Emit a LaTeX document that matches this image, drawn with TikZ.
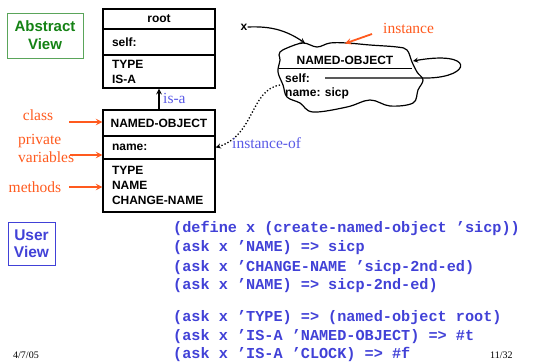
\documentclass[tikz,border=0pt]{standalone}
\usepackage{fontspec}
\setmainfont{Liberation Serif}
\setsansfont{Liberation Sans}
\setmonofont{Liberation Mono}
\usetikzlibrary{positioning,calc,arrows,arrows.meta}
\definecolor{annot}{RGB}{255,90,30}
\definecolor{codeblue}{RGB}{65,65,215}
\definecolor{linkblue}{RGB}{90,90,230}
\definecolor{viewgreen}{RGB}{20,130,20}
\definecolor{framegreen}{RGB}{90,165,90}
\tikzset{
	slot/.style={draw, line width=1.4pt, minimum width=112pt, text width=94pt, inner xsep=9pt, inner ysep=0pt, align=left, font=\sffamily\bfseries\fontsize{12}{15}\selectfont},
	headslot/.style={slot, align=center, text width=106pt, inner xsep=3pt},
	plain/.style={inner sep=0pt, font=\sffamily\bfseries\fontsize{12}{15}\selectfont},
	note/.style={inner sep=0pt, text=annot, font=\fontsize{15.5}{18}\selectfont},
	link/.style={inner sep=0pt, text=linkblue, font=\fontsize{15.5}{18}\selectfont},
	code/.style={inner sep=0pt, anchor=base west, text=codeblue, font=\ttfamily\bfseries\fontsize{15.2}{19}\selectfont},
	noteline/.style={draw=annot, line width=1.8pt, ->, >=stealth}
}

\begin{document}
\begin{tikzpicture}[x=1pt, y=-1pt]
	\useasboundingbox (0,0) rectangle (535,362);

	% view tags
	\node[draw=framegreen, line width=1pt, minimum width=76pt, minimum height=45pt, align=center, text=viewgreen, font=\sffamily\bfseries\fontsize{15}{18}\selectfont] (abstract) at (45,35.5) {Abstract\\View};
	\node[draw=codeblue, line width=1pt, minimum width=47pt, minimum height=43pt, align=center, text=codeblue, font=\sffamily\bfseries\fontsize{15.5}{17}\selectfont] (user) at (31.5,243.5) {User\\View};

	% root class
	\node[headslot, minimum height=20pt] (rootname) at (159,19) {root\hspace*{20pt}};
	\node[slot, minimum height=26pt] (rootvars) at (159,42) {self:};
	\node[slot, minimum height=33pt] (rootmeth) at (159,71.5) {TYPE\\IS-A};

	% named-object class
	\node[headslot, minimum height=26pt] (nohead) at (159,123) {NAMED-OBJECT};
	\node[slot, minimum height=23pt] (novars) at (159,147.5) {name:};
	\node[slot, minimum height=53pt] (nometh) at (159,185.5) {TYPE\\NAME\\CHANGE-NAME};

	\draw [->, >=stealth, line width=1.5pt] (nohead.north) to (rootmeth.south);
	\node[link, anchor=west] (isa) at (163,98) {is-a};

	% labels on the left
	\node[note] (classlbl) at (38,115) {class};
	\node[note, anchor=west, align=left] (varslbl) at (18,148) {private\\variables};
	\node[note] (methlbl) at (35,187) {methods};
	\coordinate (classtail) at (69,122);
	\coordinate (varstail) at (70,155);
	\coordinate (methtail) at (69,187);
	\draw [noteline] (classtail) to (classtail -| nohead.west);
	\draw [noteline] (varstail) to (varstail -| novars.west);
	\draw [noteline] (methtail) to (methtail -| nometh.west);

	% the instance
	\draw [line width=1.2pt] plot[smooth cycle, tension=0.6] coordinates {
		(280,52) (287,48) (303,43) (317,47) (330,43) (347,43) (370,45) (397,47)
		(407,50) (412,62) (417,72) (423,80) (418,90) (413,103) (390,106) (370,100)
		(347,107) (313,112) (300,103) (287,97) (283,85) (278,72) (280,60) (279,55)};
	\draw [line width=0.9pt] (278.5,68) -- (412,68);
	\node[plain] (objhead) at (345,60) {NAMED-OBJECT};
	\node[plain, anchor=west] (objself) at (285,78) {self:};
	\node[plain, anchor=west] (objname) at (285,93) {name: sicp};
	\coordinate (blobtop) at (305,43);
	\coordinate (blobmid) at (345,43.5);
	\coordinate (blobleft) at (280,85);
	\coordinate (selfptr) at (325,78);
	\coordinate (selfback) at (413,61);

	\node[plain] (xname) at (244,27) {x};
	\draw [->, >=stealth, line width=1.2pt] (xname.east) to[bend left=18] (blobtop);
	\draw [->, >=stealth, line width=1.2pt] (selfptr) -- (428,78) .. controls (472,77) and (475,50) .. (selfback);

	\node[note, anchor=west] (instlbl) at (383,28) {instance};
	\draw [noteline] (372,34) to (blobmid);

	\draw [->, >=stealth, line width=1.3pt, dotted] (blobleft) .. controls (250,90) and (255,135) .. (novars.east);
	\node[link, anchor=west] (instof) at (232,143) {instance-of};

	% user view code
	\node[code] (c1) at (173,232) {(define x (create-named-object ’sicp))};
	\node[code] (c2) at (173,251) {(ask x ’NAME) => sicp};
	\node[code] (c3) at (173,271) {(ask x ’CHANGE-NAME ’sicp-2nd-ed)};
	\node[code] (c4) at (173,289) {(ask x ’NAME) => sicp-2nd-ed)};
	\node[code] (c5) at (173,321) {(ask x ’TYPE) => (named-object root)};
	\node[code] (c6) at (173,340) {(ask x ’IS-A ’NAMED-OBJECT) => \#t};
	\node[code] (c7) at (173,358) {(ask x ’IS-A ’CLOCK) => \#f};

	% footer
	\node[inner sep=0pt, anchor=base west, font=\fontsize{10}{12}\selectfont] (date) at (13,358) {4/7/05};
	\node[inner sep=0pt, anchor=base west, font=\fontsize{10}{12}\selectfont] (page) at (490,358) {11/32};
\end{tikzpicture}
\end{document}
